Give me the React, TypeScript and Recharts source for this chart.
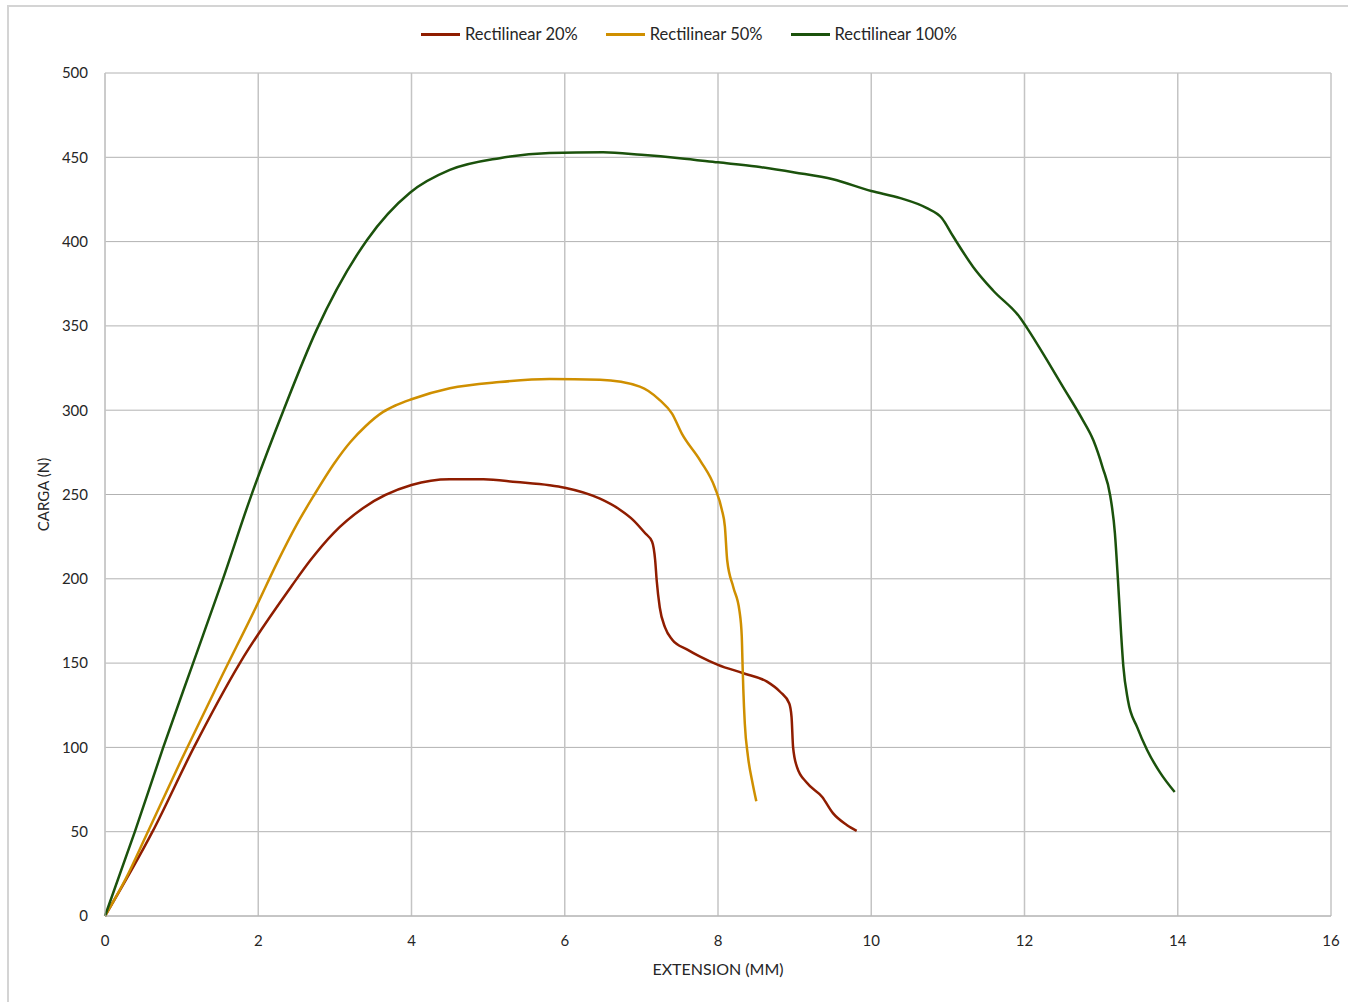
import { LineChart, Line, XAxis, YAxis, CartesianGrid } from "recharts"

// Rectilinear 20%
const ext20 = [0, 0.62, 1.16, 1.76, 2.44, 2.68, 2.98, 3.37, 4.0, 4.5, 4.94, 5.37, 5.8, 6.0, 6.46, 6.72, 6.89, 7.05, 7.14, 7.18, 7.2, 7.24, 7.31, 7.4, 7.6, 7.76, 8.0, 8.33, 8.64, 8.81, 8.93, 8.96, 8.98, 9.03, 9.16, 9.36, 9.5, 9.68, 9.81]
const load20 = [0, 50, 100, 150, 196, 211, 227, 242, 255.6, 259, 259, 257.4, 255.5, 254, 247.5, 241, 235, 227, 222, 211, 199, 183, 171, 164, 158, 154, 149, 144, 139, 133, 126, 118, 100, 88.5, 79, 70.6, 61, 54, 50.5]

// Rectilinear 50%
const ext50 = [0, 0.27, 0.54, 1.0, 1.5, 2.0, 2.24, 2.5, 2.72, 3.0, 3.2, 3.4, 3.63, 3.8, 4.0, 4.5, 5.15, 5.8, 6.46, 6.98, 7.24, 7.4, 7.53, 7.77, 7.96, 8.05, 8.09, 8.12, 8.2, 8.28, 8.31, 8.32, 8.33, 8.35, 8.39, 8.45, 8.5]
const load50 = [0, 22, 48, 93, 140, 186, 209, 232, 249, 269, 281, 290.5, 299, 303, 306.5, 313, 316.7, 318.5, 318, 314, 306, 298, 286, 270, 254, 241, 231, 211, 195, 181, 166, 150, 135, 114, 95, 79, 68]

// Rectilinear 100%
const ext100 = [0, 0.39, 0.76, 1.15, 1.54, 1.89, 2.33, 2.76, 3.42, 3.98, 4.5, 5.15, 5.8, 6.5, 7.0, 7.5, 8.0, 8.5, 9.0, 9.5, 10.0, 10.38, 10.72, 10.92, 11.07, 11.33, 11.59, 11.94, 12.03, 12.29, 12.5, 12.75, 12.9, 13.02, 13.12, 13.18, 13.22, 13.26, 13.29, 13.35, 13.47, 13.6, 13.77, 13.96]
const load100 = [0, 50, 100, 150, 200, 247, 300, 347.5, 401, 429, 442.5, 449.5, 452.5, 453, 451.5, 449.5, 447, 444.5, 441, 437, 430, 425.8, 420, 414, 403, 385, 371, 355, 349, 330, 314, 295, 282, 266, 249, 227, 199, 168, 148, 128, 112, 98.5, 85, 73.5]

const xTicks = [0, 2, 4, 6, 8, 10, 12, 14, 16]
const yTicks = [0, 50, 100, 150, 200, 250, 300, 350, 400, 450, 500]

const series = [
  { name: "Rectilinear 20%", color: "#8f1d00", ext: ext20, load: load20 },
  { name: "Rectilinear 50%", color: "#cf8f00", ext: ext50, load: load50 },
  { name: "Rectilinear 100%", color: "#1b520c", ext: ext100, load: load100 },
]

const toPoints = (xs: number[], ys: number[]) => xs.map((x, i) => ({ x, y: ys[i] }))

const font = "Lato, 'Open Sans', sans-serif"
const tickStyle = { fontSize: 15, fill: "#262626", fontFamily: font }

export default function App() {
  return (
    <div style={{ position: "absolute", left: 0, top: 0, width: 1348, height: 1002, background: "#fff", overflow: "hidden" }}>
      <div
        style={{
          position: "absolute",
          left: 7,
          top: 5,
          right: 0,
          bottom: 0,
          borderLeft: "2px solid #d4d4d4",
          borderTop: "2px solid #d4d4d4",
        }}
      />
      <div
        style={{
          position: "absolute",
          top: 24,
          left: 421,
          display: "flex",
          gap: 28,
          fontFamily: font,
          fontSize: 16.5,
          color: "#262626",
          whiteSpace: "nowrap",
        }}
      >
        {series.map((s) => (
          <div key={s.name} style={{ display: "flex", alignItems: "center", gap: 5 }}>
            <span style={{ width: 39, height: 3, background: s.color, display: "inline-block" }} />
            <span>{s.name}</span>
          </div>
        ))}
      </div>
      <LineChart
        width={1348}
        height={1002}
        margin={{ top: 73, right: 17, bottom: 0, left: 30 }}
        style={{ position: "absolute", left: 0, top: 0 }}
      >
        <CartesianGrid horizontal={true} vertical={false} stroke="#b2b2b2" strokeWidth={1} />
        <CartesianGrid horizontal={false} vertical={true} stroke="#c4c4c4" strokeWidth={1.5} verticalValues={xTicks} />
        <XAxis
          type="number"
          dataKey="x"
          domain={[0, 16]}
          ticks={xTicks}
          height={86}
          tickSize={0}
          tickMargin={19}
          tick={tickStyle}
          axisLine={{ stroke: "#b2b2b2" }}
          allowDuplicatedCategory={false}
          label={{ value: "EXTENSION (MM)", position: "insideBottom", offset: 27, style: { fontSize: 16, fill: "#262626", fontFamily: font } }}
        />
        <YAxis
          type="number"
          dataKey="y"
          domain={[0, 500]}
          ticks={yTicks}
          width={75}
          tickSize={0}
          tickMargin={17}
          tick={tickStyle}
          axisLine={{ stroke: "#c4c4c4" }}
          label={{ value: "CARGA (N)", angle: -90, position: "insideLeft", offset: 14, style: { fontSize: 15, fill: "#262626", fontFamily: font, textAnchor: "middle" } }}
        />
        {series.map((s) => (
          <Line
            key={s.name}
            data={toPoints(s.ext, s.load)}
            dataKey="y"
            name={s.name}
            type="monotone"
            stroke={s.color}
            strokeWidth={2.5}
            dot={false}
            isAnimationActive={false}
          />
        ))}
      </LineChart>
    </div>
  )
}
